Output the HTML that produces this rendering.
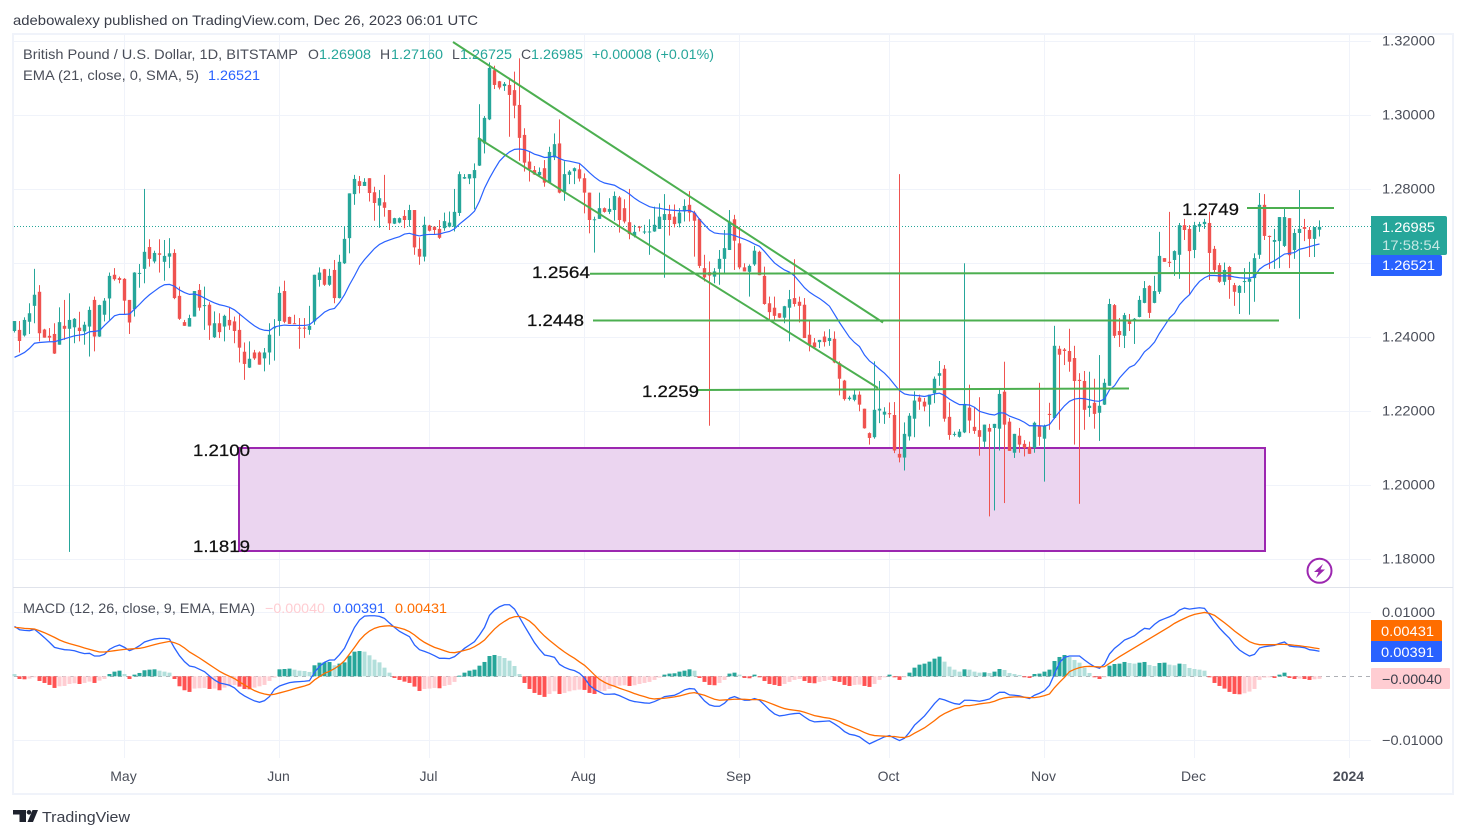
<!DOCTYPE html>
<html lang="en">
<head>
<meta charset="utf-8">
<title>GBP/USD daily chart</title>
<style>
html,body{margin:0;padding:0;background:#fff;width:1466px;height:838px;overflow:hidden}
svg{display:block}
text{font-family:"Liberation Sans",Arial,sans-serif;font-size:14px;fill:#4a4e59}
.dl{font-size:17px;fill:#111;stroke:#111;stroke-width:.25}
</style>
</head>
<body>
<svg id="chart" width="1466" height="838" viewBox="0 0 1466 838" xmlns="http://www.w3.org/2000/svg">
<rect x="0" y="0" width="1466" height="838" fill="#fff"/>
<text x="13" y="25" textLength="465" lengthAdjust="spacingAndGlyphs" fill="#3a3e4a" style="fill:#3a3e4a">adebowalexy published on TradingView.com, Dec 26, 2023 06:01 UTC</text>
<rect x="13" y="34" width="1440" height="760" fill="none" stroke="#f0f3fa" stroke-width="2"/>
<g id="grid"></g>
<line x1="13" y1="587.5" x2="1453" y2="587.5" stroke="#e0e3eb" stroke-width="1"/>
<rect x="239" y="448" width="1026" height="103" fill="#ebd5f0" stroke="#9c27b0" stroke-width="2"/>
<line id="priceLine" x1="14" x2="1371" stroke="#26a69a" stroke-width="1" stroke-dasharray="1 2"/>
<g id="candles"></g>
<path id="emaLine" fill="none" stroke="#2962ff" stroke-width="1.2"/>
<g stroke="#4caf50" stroke-width="2" fill="none">
<line x1="453" y1="42" x2="883" y2="322.5"/>
<line x1="478" y1="138" x2="878" y2="388"/>
<line x1="1247" y1="208" x2="1334" y2="208"/>
<line x1="590" y1="273.7" x2="1334" y2="273"/>
<line x1="593" y1="320.5" x2="1279" y2="320.5"/>
<line x1="697" y1="390" x2="1129" y2="388.5"/>
</g>
<text class="dl" x="1182" y="215" textLength="57" lengthAdjust="spacingAndGlyphs">1.2749</text>
<text class="dl" x="532" y="278" textLength="58" lengthAdjust="spacingAndGlyphs">1.2564</text>
<text class="dl" x="527" y="326" textLength="57" lengthAdjust="spacingAndGlyphs">1.2448</text>
<text class="dl" x="642" y="397" textLength="57" lengthAdjust="spacingAndGlyphs">1.2259</text>
<text class="dl" x="193" y="456" textLength="57" lengthAdjust="spacingAndGlyphs">1.2100</text>
<text class="dl" x="193" y="552" textLength="57" lengthAdjust="spacingAndGlyphs">1.1819</text>
<g>
<text x="23" y="59" textLength="275" lengthAdjust="spacingAndGlyphs">British Pound / U.S. Dollar, 1D, BITSTAMP</text>
<text x="308" y="59">O</text>
<text x="319" y="59" textLength="52" lengthAdjust="spacingAndGlyphs" style="fill:#26a69a">1.26908</text>
<text x="380" y="59">H</text>
<text x="391" y="59" textLength="52" lengthAdjust="spacingAndGlyphs" style="fill:#26a69a">1.27160</text>
<text x="452" y="59">L</text>
<text x="460" y="59" textLength="52" lengthAdjust="spacingAndGlyphs" style="fill:#26a69a">1.26725</text>
<text x="521" y="59">C</text>
<text x="531" y="59" textLength="52" lengthAdjust="spacingAndGlyphs" style="fill:#26a69a">1.26985</text>
<text x="592" y="59" textLength="122" lengthAdjust="spacingAndGlyphs" style="fill:#26a69a">+0.00008 (+0.01%)</text>
<text x="23" y="80" textLength="176" lengthAdjust="spacingAndGlyphs">EMA (21, close, 0, SMA, 5)</text>
<text x="208" y="80" textLength="52" lengthAdjust="spacingAndGlyphs" style="fill:#2962ff">1.26521</text>
</g>
<g>
<circle cx="1319.5" cy="570.8" r="12" fill="#fff" stroke="#9c27b0" stroke-width="2"/>
<polygon points="1323,564 1314,572 1318.5,572 1316,578 1325,569.5 1320.5,569.5" fill="#9c27b0"/>
</g>
<line id="zeroLine" x1="14" x2="1371" stroke="#787b86" stroke-opacity=".6" stroke-width="1" stroke-dasharray="4 4"/>
<g id="hist"></g>
<path id="macdLine" fill="none" stroke="#2962ff" stroke-width="1.3"/>
<path id="signalLine" fill="none" stroke="#ff6d00" stroke-width="1.3"/>
<g>
<text x="23" y="613" textLength="232" lengthAdjust="spacingAndGlyphs">MACD (12, 26, close, 9, EMA, EMA)</text>
<text x="265" y="613" textLength="60" lengthAdjust="spacingAndGlyphs" style="fill:#ffcdd2">−0.00040</text>
<text x="333" y="613" textLength="52" lengthAdjust="spacingAndGlyphs" style="fill:#2962ff">0.00391</text>
<text x="395" y="613" textLength="52" lengthAdjust="spacingAndGlyphs" style="fill:#ff6d00">0.00431</text>
</g>
<g id="priceAxis"></g>
<g id="macdAxis"></g>
<g id="timeAxis"></g>
<g>
<path d="M1371 216H1445a2 2 0 0 1 2 2V253a2 2 0 0 1-2 2H1371Z" fill="#26a69a"/>
<text x="1382" y="232" textLength="53" lengthAdjust="spacingAndGlyphs" style="fill:#fff">1.26985</text>
<text x="1382" y="250" textLength="58" lengthAdjust="spacingAndGlyphs" style="fill:#c5e8e4">17:58:54</text>
<path d="M1371 255H1440a2 2 0 0 1 2 2V274a2 2 0 0 1-2 2H1371Z" fill="#2962ff"/>
<text x="1382" y="270" textLength="53" lengthAdjust="spacingAndGlyphs" style="fill:#fff">1.26521</text>
<path d="M1371 620H1440a2 2 0 0 1 2 2V641H1371Z" fill="#ff6d00"/>
<text x="1381" y="636" textLength="53" lengthAdjust="spacingAndGlyphs" style="fill:#fff">0.00431</text>
<path d="M1371 641H1442V660a2 2 0 0 1-2 2H1371Z" fill="#2962ff"/>
<text x="1381" y="657" textLength="53" lengthAdjust="spacingAndGlyphs" style="fill:#fff">0.00391</text>
<rect x="1371" y="668" width="79" height="21" rx="1" fill="#ffcdd2"/>
<text x="1382" y="684" textLength="60" lengthAdjust="spacingAndGlyphs" style="fill:#3a3e4a">−0.00040</text>
</g>
<g>
<path d="M13 810H26V822H19.5V814.5H13Z" fill="#1e222d"/>
<circle cx="29" cy="812.3" r="2.3" fill="#1e222d"/>
<polygon points="32.5,810 38,810 33,822 27.5,822" fill="#1e222d"/>
<text x="42" y="822" textLength="88" lengthAdjust="spacingAndGlyphs" style="font-size:15px;fill:#3a3e4a">TradingView</text>
</g>
</svg>
<script>
/* Daily bars, one per calendar day, starting 22 days before 1 May 2023 */
const opens=[
1.2417,1.2420,1.2405,1.2442,1.2485,1.2523,1.2421,1.2404,1.2409,1.2380,
1.2431,1.2423,1.2427,1.2426,1.2416,1.2429,1.2501,1.2402,1.2461,1.2505,
1.2569,1.2560,1.2558,1.2501,1.2476,1.2572,1.2585,1.2644,1.2605,1.2627,
1.2604,1.2618,1.2628,1.2512,1.2441,1.2429,1.2456,1.2528,1.2485,1.2488,
1.2400,1.2438,1.2429,1.2447,1.2443,1.2420,1.2361,1.2318,1.2359,1.2359,
1.2343,1.2359,1.2425,1.2444,1.2525,1.2455,1.2438,1.2426,1.2426,1.2420,
1.2443,1.2555,1.2584,1.2542,1.2582,1.2506,1.2600,1.2668,1.2787,1.2822,
1.2809,1.2830,1.2792,1.2756,1.2765,1.2744,1.2707,1.2710,1.2728,1.2717,
1.2744,1.2639,1.2618,1.2702,1.2699,1.2693,1.2695,1.2699,1.2699,1.2736,
1.2829,1.2829,1.2830,1.2864,1.2924,1.2989,1.3122,1.3092,1.3079,1.3082,
1.3068,1.3028,1.2947,1.2875,1.2852,1.2838,1.2857,1.2818,1.2886,1.2924,
1.2794,1.2839,1.2849,1.2854,1.2830,1.2791,1.2717,1.2720,1.2749,1.2739,
1.2744,1.2778,1.2749,1.2711,1.2674,1.2699,1.2684,1.2685,1.2686,1.2693,
1.2717,1.2733,1.2726,1.2708,1.2740,1.2758,1.2737,1.2720,1.2587,1.2576,
1.2564,1.2585,1.2612,1.2636,1.2719,1.2654,1.2589,1.2577,1.2597,1.2631,
1.2566,1.2492,1.2480,1.2465,1.2453,1.2480,1.2506,1.2496,1.2488,1.2407,
1.2386,1.2387,1.2402,1.2390,1.2396,1.2330,1.2283,1.2233,1.2231,1.2245,
1.2207,1.2141,1.2130,1.2202,1.2191,1.2195,1.2190,1.2085,1.2075,1.2132,
1.2180,1.2237,1.2226,1.2218,1.2249,1.2296,1.2315,1.2185,1.2137,1.2131,
1.2143,1.2210,1.2158,1.2149,1.2118,1.2155,1.2155,1.2153,1.2253,1.2172,
1.2088,1.2134,1.2112,1.2104,1.2101,1.2161,1.2126,1.2193,1.2182,1.2369,
1.2367,1.2363,1.2344,1.2285,1.2282,1.2209,1.2223,1.2196,1.2218,1.2269,
1.2487,1.2417,1.2404,1.2447,1.2447,1.2455,1.2493,1.2539,1.2493,1.2523,
1.2614,1.2604,1.2609,1.2623,1.2703,1.2693,1.2636,1.2699,1.2706,1.2709,
1.2639,1.2595,1.2550,1.2590,1.2541,1.2520,1.2550,1.2550,1.2560,1.2623,
1.2758,1.2674,1.2658,1.2660,1.2647,1.2722,1.2636,1.2682,1.2698,1.2690,1.2666,1.26908];
const highs=[
1.2444,1.2444,1.2454,1.2492,1.2585,1.2541,1.2423,1.2425,1.2438,1.2481,
1.2501,1.2519,1.2452,1.2469,1.2442,1.2483,1.2510,1.2488,1.2506,1.2575,
1.2587,1.2564,1.2560,1.2501,1.2576,1.2598,1.2801,1.2665,1.2634,1.2665,
1.2663,1.2668,1.2638,1.2537,1.2447,1.2461,1.2525,1.2544,1.2537,1.2495,
1.2470,1.2465,1.2461,1.2480,1.2456,1.2465,1.2386,1.2389,1.2366,1.2362,
1.2371,1.2438,1.2449,1.2537,1.2553,1.2456,1.2461,1.2452,1.2452,1.2485,
1.2569,1.2589,1.2585,1.2585,1.2609,1.2623,1.2699,1.2789,1.2839,1.2836,
1.2830,1.2830,1.2807,1.2798,1.2839,1.2744,1.2723,1.2724,1.2744,1.2758,
1.2744,1.2670,1.2726,1.2704,1.2699,1.2717,1.2737,1.2740,1.2801,1.2848,
1.2841,1.2841,1.2870,1.3030,1.2998,1.3143,1.3134,1.3093,1.3090,1.3100,
1.3118,1.3154,1.2965,1.2902,1.2863,1.2859,1.2879,1.2915,1.2951,1.2989,
1.2876,1.2852,1.2859,1.2868,1.2843,1.2791,1.2726,1.2791,1.2751,1.2776,
1.2794,1.2782,1.2773,1.2801,1.2704,1.2701,1.2704,1.2719,1.2753,1.2762,
1.2787,1.2758,1.2759,1.2749,1.2773,1.2795,1.2742,1.2722,1.2623,1.2605,
1.2587,1.2636,1.2690,1.2744,1.2731,1.2699,1.2600,1.2597,1.2647,1.2634,
1.2591,1.2510,1.2510,1.2465,1.2485,1.2528,1.2611,1.2510,1.2506,1.2444,
1.2398,1.2393,1.2416,1.2422,1.2416,1.2335,1.2285,1.2242,1.2258,1.2254,
1.2207,1.2143,1.2335,1.2282,1.2211,1.2224,1.2225,1.2841,1.2170,1.2195,
1.2254,1.2245,1.2236,1.2245,1.2294,1.2336,1.2325,1.2224,1.2145,1.2152,
1.2600,1.2272,1.2211,1.2238,1.2164,1.2166,1.2166,1.2263,1.2334,1.2182,
1.2139,1.2155,1.2122,1.2118,1.2172,1.2277,1.2164,1.2223,1.2431,1.2377,
1.2371,1.2423,1.2377,1.2303,1.2309,1.2307,1.2288,1.2352,1.2288,1.2504,
1.2490,1.2452,1.2466,1.2463,1.2452,1.2512,1.2552,1.2541,1.2566,1.2685,
1.2614,1.2739,1.2635,1.2709,1.2720,1.2703,1.2712,1.2712,1.2720,1.2739,
1.2647,1.2601,1.2602,1.2593,1.2547,1.2541,1.2587,1.2604,1.2627,1.2790,
1.2787,1.2675,1.2693,1.2725,1.2749,1.2722,1.2693,1.2798,1.2720,1.2698,1.2698,1.2716];
const lows=[
1.2413,1.2359,1.2402,1.2409,1.2438,1.2389,1.2399,1.2389,1.2355,1.2380,
1.2393,1.1820,1.2384,1.2389,1.2380,1.2348,1.2362,1.2401,1.2443,1.2447,
1.2553,1.2546,1.2461,1.2409,1.2456,1.2534,1.2546,1.2591,1.2600,1.2575,
1.2553,1.2587,1.2503,1.2447,1.2431,1.2429,1.2456,1.2472,1.2420,1.2393,
1.2398,1.2398,1.2389,1.2420,1.2384,1.2332,1.2285,1.2317,1.2339,1.2326,
1.2308,1.2326,1.2337,1.2404,1.2438,1.2436,1.2436,1.2369,1.2398,1.2407,
1.2434,1.2537,1.2539,1.2539,1.2492,1.2505,1.2598,1.2627,1.2758,1.2789,
1.2809,1.2767,1.2715,1.2696,1.2726,1.2690,1.2706,1.2708,1.2695,1.2699,
1.2623,1.2596,1.2605,1.2686,1.2679,1.2666,1.2688,1.2697,1.2686,1.2728,
1.2828,1.2814,1.2746,1.2863,1.2897,1.2987,1.3071,1.3070,1.3066,1.2942,
1.2992,1.2877,1.2848,1.2821,1.2839,1.2834,1.2807,1.2816,1.2879,1.2789,
1.2769,1.2814,1.2814,1.2821,1.2735,1.2681,1.2629,1.2720,1.2737,1.2733,
1.2715,1.2683,1.2708,1.2665,1.2670,1.2686,1.2679,1.2623,1.2685,1.2693,
1.2561,1.2675,1.2697,1.2697,1.2713,1.2713,1.2618,1.2587,1.2551,1.2161,
1.2546,1.2542,1.2573,1.2636,1.2582,1.2584,1.2578,1.2510,1.2593,1.2568,
1.2488,1.2449,1.2447,1.2452,1.2438,1.2389,1.2483,1.2440,1.2398,1.2362,
1.2371,1.2371,1.2375,1.2377,1.2330,1.2243,1.2229,1.2229,1.2227,1.2200,
1.2153,1.2110,1.2126,1.2168,1.2166,1.2182,1.2087,1.2062,1.2040,1.2121,
1.2130,1.2204,1.2200,1.2159,1.2222,1.2269,1.2172,1.2123,1.2132,1.2129,
1.2141,1.2141,1.2139,1.2080,1.2103,1.1916,1.1932,1.2094,1.1952,1.2093,
1.2074,1.2088,1.2078,1.2085,1.2088,1.2107,1.2010,1.2150,1.2179,1.2150,
1.2325,1.2307,1.2110,1.1950,1.2150,1.2185,1.2153,1.2120,1.2217,1.2269,
1.2398,1.2374,1.2371,1.2417,1.2382,1.2454,1.2492,1.2452,1.2492,1.2517,
1.2604,1.2590,1.2566,1.2558,1.2663,1.2515,1.2614,1.2685,1.2693,1.2555,
1.2571,1.2547,1.2541,1.2504,1.2485,1.2463,1.2520,1.2461,1.2496,1.2612,
1.2663,1.2585,1.2585,1.2587,1.2644,1.2587,1.2612,1.2450,1.2660,1.2617,1.2617,1.26725];
const closes=[
1.2444,1.2390,1.2447,1.2465,1.2515,1.2411,1.2399,1.2399,1.2356,1.2441,
1.2423,1.2447,1.2450,1.2417,1.2434,1.2474,1.2402,1.2487,1.2499,1.2566,
1.2557,1.2555,1.2499,1.2440,1.2575,1.2574,1.2631,1.2612,1.2628,1.2623,
1.2620,1.2627,1.2506,1.2450,1.2431,1.2452,1.2525,1.2480,1.2487,1.2432,
1.2438,1.2414,1.2458,1.2432,1.2417,1.2372,1.2328,1.2342,1.2343,1.2326,
1.2359,1.2407,1.2427,1.2520,1.2442,1.2436,1.2436,1.2424,1.2424,1.2431,
1.2569,1.2575,1.2542,1.2566,1.2506,1.2604,1.2666,1.2789,1.2828,1.2809,
1.2820,1.2790,1.2763,1.2776,1.2750,1.2708,1.2722,1.2722,1.2717,1.2744,
1.2643,1.2618,1.2704,1.2688,1.2690,1.2669,1.2714,1.2710,1.2739,1.2841,
1.2833,1.2841,1.2852,1.2938,1.2993,1.3128,1.3082,1.3075,1.3085,1.3055,
1.3026,1.2939,1.2872,1.2854,1.2840,1.2847,1.2818,1.2901,1.2922,1.2791,
1.2841,1.2848,1.2857,1.2829,1.2791,1.2717,1.2719,1.2749,1.2739,1.2747,
1.2782,1.2717,1.2713,1.2679,1.2685,1.2696,1.2686,1.2686,1.2704,1.2726,
1.2733,1.2717,1.2706,1.2737,1.2755,1.2737,1.2715,1.2593,1.2562,1.2567,
1.2578,1.2612,1.2641,1.2713,1.2661,1.2589,1.2578,1.2593,1.2634,1.2568,
1.2490,1.2468,1.2458,1.2453,1.2484,1.2503,1.2490,1.2485,1.2398,1.2380,
1.2373,1.2393,1.2387,1.2398,1.2332,1.2288,1.2233,1.2237,1.2245,1.2218,
1.2154,1.2128,1.2204,1.2207,1.2199,1.2192,1.2094,1.2075,1.2139,1.2188,
1.2229,1.2226,1.2213,1.2245,1.2288,1.2303,1.2180,1.2136,1.2139,1.2145,
1.2220,1.2175,1.2147,1.2131,1.2164,1.2145,1.2166,1.2247,1.2164,1.2093,
1.2139,1.2110,1.2101,1.2085,1.2169,1.2131,1.2161,1.2190,1.2377,1.2353,
1.2363,1.2334,1.2282,1.2282,1.2204,1.2215,1.2193,1.2215,1.2277,1.2490,
1.2404,1.2406,1.2460,1.2436,1.2450,1.2501,1.2533,1.2466,1.2525,1.2620,
1.2604,1.2601,1.2633,1.2703,1.2690,1.2633,1.2703,1.2706,1.2712,1.2628,
1.2582,1.2550,1.2582,1.2555,1.2523,1.2539,1.2552,1.2558,1.2614,1.2758,
1.2674,1.2671,1.2663,1.2725,1.2725,1.2622,1.2682,1.2693,1.2693,1.2666,1.2698,1.26985];
const emaValues=[
1.2346,1.2352,1.2359,1.2370,1.2384,1.2386,1.2387,1.2388,1.2388,1.2392,
1.2396,1.2400,1.2404,1.2406,1.2408,1.2415,1.2416,1.2418,1.2432,1.2445,
1.2458,1.2462,1.2462,1.2463,1.2476,1.2489,1.2503,1.2515,1.2525,1.2535,
1.2542,1.2543,1.2538,1.2528,1.2521,1.2516,1.2517,1.2513,1.2506,1.2499,
1.2493,1.2488,1.2485,1.2481,1.2474,1.2463,1.2452,1.2441,1.2431,1.2423,
1.2419,1.2418,1.2428,1.2431,1.2433,1.2432,1.2432,1.2432,1.2432,1.2434,
1.2445,1.2456,1.2468,1.2475,1.2478,1.2494,1.2515,1.2542,1.2566,1.2592,
1.2610,1.2625,1.2640,1.2651,1.2658,1.2663,1.2668,1.2672,1.2679,1.2681,
1.2677,1.2674,1.2677,1.2678,1.2678,1.2679,1.2683,1.2686,1.2693,1.2706,
1.2717,1.2728,1.2741,1.2768,1.2803,1.2830,1.2854,1.2876,1.2890,1.2901,
1.2908,1.2909,1.2907,1.2902,1.2895,1.2891,1.2886,1.2887,1.2890,1.2883,
1.2878,1.2876,1.2873,1.2870,1.2858,1.2845,1.2833,1.2823,1.2817,1.2814,
1.2811,1.2803,1.2796,1.2787,1.2776,1.2767,1.2760,1.2753,1.2750,1.2749,
1.2746,1.2744,1.2743,1.2742,1.2742,1.2743,1.2737,1.2719,1.2704,1.2690,
1.2682,1.2680,1.2679,1.2679,1.2675,1.2670,1.2665,1.2659,1.2652,1.2646,
1.2632,1.2616,1.2601,1.2591,1.2582,1.2576,1.2566,1.2550,1.2534,1.2522,
1.2513,1.2505,1.2495,1.2484,1.2462,1.2440,1.2420,1.2400,1.2386,1.2375,
1.2352,1.2336,1.2326,1.2314,1.2303,1.2289,1.2272,1.2256,1.2247,1.2244,
1.2243,1.2242,1.2240,1.2243,1.2247,1.2249,1.2243,1.2233,1.2225,1.2218,
1.2218,1.2217,1.2211,1.2200,1.2196,1.2192,1.2190,1.2196,1.2195,1.2187,
1.2182,1.2177,1.2170,1.2161,1.2161,1.2161,1.2160,1.2164,1.2182,1.2199,
1.2215,1.2227,1.2233,1.2235,1.2234,1.2231,1.2228,1.2227,1.2233,1.2258,
1.2269,1.2290,1.2305,1.2319,1.2325,1.2341,1.2361,1.2372,1.2387,1.2411,
1.2431,1.2452,1.2465,1.2488,1.2503,1.2515,1.2535,1.2551,1.2561,1.2567,
1.2567,1.2566,1.2566,1.2566,1.2563,1.2561,1.2560,1.2560,1.2564,1.2584,
1.2594,1.2600,1.2607,1.2616,1.2625,1.2627,1.2629,1.2638,1.2641,1.2645,1.2649,1.26521];
/* MACD series, in units of 0.00001 */
const macdValues=[
780,728,718,712,733,671,603,530,452,432,
416,411,400,374,354,359,317,317,343,421,
463,489,452,400,432,478,536,562,582,593,
593,582,442,322,229,161,146,109,73,5,
-57,-104,-120,-140,-182,-255,-307,-348,-385,-406,
-380,-317,-203,-151,-125,-99,-88,-83,-78,-68,
62,156,218,255,255,338,437,603,764,879,
941,946,946,936,905,832,764,702,660,619,
489,416,390,359,322,281,281,276,307,369,
437,489,541,645,764,952,1035,1087,1118,1118,
1050,920,785,655,525,421,333,317,296,187,
140,109,88,47,-26,-140,-203,-244,-281,-281,
-276,-302,-338,-374,-395,-406,-416,-421,-395,-359,
-317,-307,-296,-260,-213,-192,-198,-296,-385,-447,
-468,-468,-421,-343,-317,-348,-374,-374,-348,-374,
-447,-525,-588,-619,-608,-593,-582,-577,-634,-686,
-712,-707,-702,-697,-744,-796,-863,-905,-920,-946,
-1004,-1056,-1019,-983,-946,-926,-967,-1004,-967,-874,
-764,-692,-619,-525,-426,-348,-369,-400,-426,-437,
-374,-374,-380,-390,-374,-354,-296,-250,-250,-291,
-296,-307,-328,-348,-296,-265,-224,-140,36,213,
296,317,317,317,255,198,151,125,192,348,
437,499,567,598,634,697,749,738,811,868,
900,931,967,1035,1066,1050,1061,1071,1061,962,
853,754,671,593,489,411,359,317,343,442,
463,473,484,515,536,473,463,458,447,416,406,391];
const signalValues=[
764,759,749,744,738,712,681,645,608,567,
536,510,489,468,442,421,400,380,380,390,
400,411,421,426,432,437,452,473,494,515,
530,546,525,494,442,380,333,286,234,182,
130,78,36,0,-36,-88,-135,-182,-224,-255,
-276,-291,-281,-260,-239,-218,-192,-172,-151,-125,
-57,-5,47,78,120,172,244,348,452,562,
645,707,749,775,785,790,775,754,733,697,
645,582,530,489,452,426,400,374,369,385,
406,426,463,510,567,655,738,806,858,905,
931,936,910,863,796,707,629,562,499,437,
380,328,281,224,172,99,21,-47,-94,-130,
-156,-187,-213,-239,-270,-296,-317,-343,-354,-348,
-343,-333,-322,-307,-286,-265,-255,-276,-296,-328,
-359,-374,-369,-364,-359,-359,-359,-364,-364,-364,
-385,-416,-447,-478,-504,-520,-530,-541,-561,-588,
-614,-629,-645,-655,-676,-707,-749,-780,-811,-842,
-879,-910,-926,-931,-936,-941,-941,-952,-957,-936,
-889,-848,-806,-749,-692,-629,-582,-546,-510,-489,
-458,-458,-447,-432,-421,-411,-390,-359,-338,-328,
-322,-322,-328,-333,-333,-322,-302,-276,-177,-94,
-16,73,109,135,151,156,151,146,151,203,
255,307,354,400,447,494,541,588,634,681,
728,775,827,868,905,941,967,983,998,983,
952,894,837,775,707,650,593,541,510,494,
494,494,494,499,499,494,485,478,466,456,442,431];
const histValues=[
36,-42,-47,-36,-10,-73,-104,-135,-182,-156,
-151,-120,-109,-120,-104,-83,-104,-68,-42,36,
73,88,36,-42,26,52,94,104,109,88,
73,57,-42,-156,-218,-244,-192,-187,-182,-198,
-192,-218,-177,-156,-135,-161,-198,-203,-177,-156,
-135,-73,-21,109,114,120,104,88,83,68,
172,213,218,224,172,198,218,322,385,395,
385,328,260,218,135,57,-26,-57,-83,-104,
-161,-229,-198,-192,-182,-187,-151,-135,-88,10,
57,88,104,166,224,317,333,317,286,244,
161,36,-104,-198,-260,-291,-322,-276,-234,-276,
-260,-234,-218,-208,-213,-260,-276,-234,-229,-198,
-151,-146,-140,-151,-140,-120,-104,-88,-57,-21,
26,42,47,73,88,109,88,-26,-88,-135,
-140,-104,-57,42,57,26,-26,-31,26,-16,
-73,-120,-135,-151,-120,-88,-57,-42,-73,-104,
-109,-88,-73,-57,-73,-88,-135,-151,-135,-130,
-151,-166,-120,-57,-16,26,-16,-57,-16,57,
135,182,198,229,276,307,229,151,104,73,
109,104,73,57,62,52,73,114,99,52,
36,21,-10,-26,36,42,73,104,239,302,
333,302,255,213,135,52,-10,-42,-5,166,
192,198,224,208,198,213,224,177,161,208,
213,182,172,198,192,130,114,104,88,-10,
-104,-151,-192,-244,-276,-281,-265,-239,-198,-57,
-21,-16,-26,26,57,-26,-42,-36,-42,-57,-47,-40];
const priceTicks=[1.32,1.30,1.28,1.26,1.24,1.22,1.20,1.18];
const hiddenPriceTickLabels=[1.26];
const macdTicks=[0.01,-0.01];
const monthLabels=["May","Jun","Jul","Aug","Sep","Oct","Nov","Dec","2024"];
const monthBarIndex=[22,53,83,114,145,175,206,236,267];
const lastPrice=1.26985;

const SVGNS="http://www.w3.org/2000/svg";
function barX(i){return 14.5+5*i;}
function priceY(p){return 263.3-(p-1.26)*3700;}
function macdY(v){return 676.3-v*6400;}
function pointY(v){return macdY(v*0.00001);}
function crisp(y){return Math.round(y-0.5)+0.5;}
function make(tag,attrs,parent){
  const el=document.createElementNS(SVGNS,tag);
  for(const k in attrs)el.setAttribute(k,attrs[k]);
  parent.appendChild(el);
  return el;
}
function linePath(values,yFn){
  return values.map((v,i)=>(i?"L":"M")+barX(i)+" "+yFn(v).toFixed(2)).join("");
}

const gridGroup=document.getElementById("grid");
monthBarIndex.forEach(function(b){
  const el=make("line",{x1:barX(b),x2:barX(b),y1:35,y2:758,stroke:"#f0f3fa","stroke-width":1},gridGroup);
  
  
});
priceTicks.forEach(function(t){
  const y=crisp(priceY(t));
  const el=make("line",{x1:14,x2:1371,y1:y,y2:y,stroke:"#f0f3fa","stroke-width":1},gridGroup);
  
  
});
macdTicks.forEach(function(t){
  const y=crisp(macdY(t));
  const el=make("line",{x1:14,x2:1371,y1:y,y2:y,stroke:"#f0f3fa","stroke-width":1},gridGroup);
  
  
});

const pl=document.getElementById("priceLine");
pl.setAttribute("y1",crisp(priceY(lastPrice)));
pl.setAttribute("y2",crisp(priceY(lastPrice)));
const zl=document.getElementById("zeroLine");
zl.setAttribute("y1",crisp(macdY(0)));
zl.setAttribute("y2",crisp(macdY(0)));

const candleGroup=document.getElementById("candles");
closes.forEach(function(c,i){
  const o=opens[i],up=c>=o,col=up?"#26a69a":"#ef5350",x=barX(i);
  const top=priceY(Math.max(o,c)),bot=priceY(Math.min(o,c));
  const wick=make("rect",{x:x-0.5,width:1,y:priceY(highs[i]),height:Math.max(1,priceY(lows[i])-priceY(highs[i])),fill:col},candleGroup);
  
  
  const body=make("rect",{x:x-1.7,width:3.4,y:top,height:Math.max(1,bot-top),fill:col},candleGroup);
  
  
});
document.getElementById("emaLine").setAttribute("d",linePath(emaValues,priceY));

const histGroup=document.getElementById("hist");
histValues.forEach(function(v,i){
  const prev=i?histValues[i-1]:v;
  let col;
  if(v>=0)col=v>prev?"#26a69a":"#b2dfdb";
  else col=v<prev?"#ff5252":"#ffcdd2";
  const y0=pointY(0),y1=pointY(v);
  const bar=make("rect",{x:barX(i)-2,width:4,y:Math.min(y0,y1),height:Math.max(1,Math.abs(y1-y0)),fill:col},histGroup);
  
  
});
document.getElementById("macdLine").setAttribute("d",linePath(macdValues,pointY));
document.getElementById("signalLine").setAttribute("d",linePath(signalValues,pointY));

const priceAxis=document.getElementById("priceAxis");
priceTicks.filter(t=>hiddenPriceTickLabels.indexOf(t)<0).forEach(function(t){
  const el=make("text",{x:1382,y:priceY(t)+4,textLength:53,lengthAdjust:"spacingAndGlyphs"},priceAxis);
  el.textContent=t.toFixed(5);
  
  
});
const macdAxis=document.getElementById("macdAxis");
macdTicks.forEach(function(t){
  const neg=t<0;
  const el=make("text",{x:1382,y:macdY(t)+4.5,textLength:neg?61:53,lengthAdjust:"spacingAndGlyphs"},macdAxis);
  el.textContent=(neg?"\u2212":"")+Math.abs(t).toFixed(5);
  
  
});
const timeAxis=document.getElementById("timeAxis");
monthLabels.forEach(function(m,k){
  const el=make("text",{x:barX(monthBarIndex[k])-1,y:781,"text-anchor":"middle"},timeAxis);
  el.textContent=m;
  if(m==="2024")el.setAttribute("font-weight","bold");
  
  
});
</script>
</body>
</html>
